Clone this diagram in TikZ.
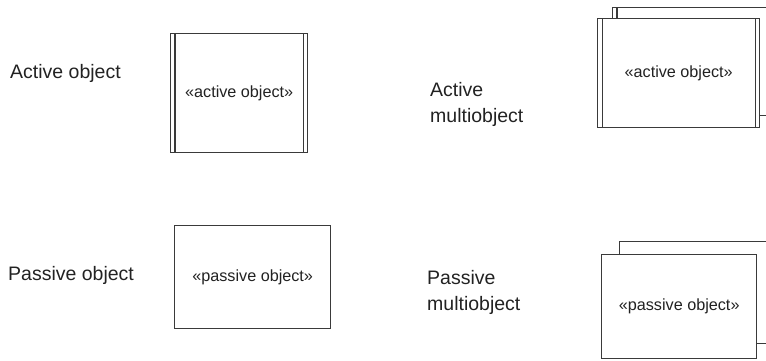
\documentclass[tikz,border=0pt]{standalone}
\usepackage{fontspec}
\setmainfont{Liberation Sans}
\definecolor{linec}{HTML}{3A3A3A}
\definecolor{textc}{HTML}{222222}
\begin{document}
\begin{tikzpicture}[x=1pt,y=-1pt,
  box/.style={draw=linec, line width=1.4pt, fill=white, inner sep=0pt, text=textc,
    font=\fontsize{16.2}{19}\selectfont},
  bar/.style={draw=linec, line width=1.4pt},
  lbl/.style={font=\fontsize{19.5}{26}\selectfont, anchor=west, align=left, inner sep=0pt, text=textc},
]
\useasboundingbox (0,0) rectangle (766,360);
\clip (0,0) rectangle (766,360);

% Active object
\node[lbl] (lao) at (10,73) {Active object};
\node[box, minimum width=137pt, minimum height=119pt, anchor=north west] (ao) at (170,33) {«active object»};
\draw[bar] ([xshift=5pt]ao.north west) -- ([xshift=5pt]ao.south west);
\draw[bar] ([xshift=-5pt]ao.north east) -- ([xshift=-5pt]ao.south east);

% Passive object
\node[lbl] (lpo) at (8,275) {Passive object};
\node[box, minimum width=156pt, minimum height=103pt, anchor=north west] (po) at (174,225) {«passive object»};

% Active multiobject
\node[lbl] (lam) at (430,104) {Active\\multiobject};
\node[box, minimum width=188pt, minimum height=108pt, anchor=north west] (amb) at (612,7) {};
\draw[bar] ([xshift=5pt]amb.north west) -- ([xshift=5pt]amb.south west);
\node[box, minimum width=162pt, minimum height=109pt, anchor=north west] (amf) at (597,18) {«active object»};
\draw[bar] ([xshift=5.5pt]amf.north west) -- ([xshift=5.5pt]amf.south west);
\draw[bar] ([xshift=-5pt]amf.north east) -- ([xshift=-5pt]amf.south east);

% Passive multiobject
\node[lbl] (lpm) at (427,292) {Passive\\multiobject};
\node[box, minimum width=180pt, minimum height=102pt, anchor=north west] (pmb) at (619,241) {};
\node[box, minimum width=155pt, minimum height=104pt, anchor=north west] (pmf) at (601,254) {«passive object»};
\end{tikzpicture}
\end{document}
